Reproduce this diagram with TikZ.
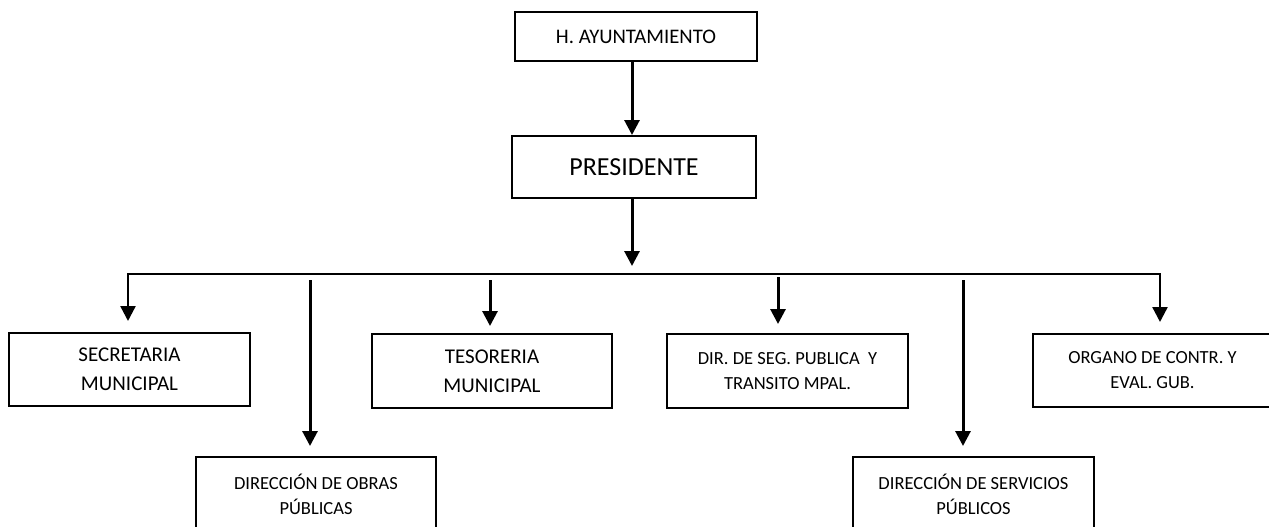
\documentclass[tikz,border=0pt]{standalone}
\usepackage{fontspec}
\setmainfont{Carlito}
\usetikzlibrary{arrows.meta}
\tikzset{
  box/.style={draw, line width=2pt, align=center, inner sep=0pt},
  bigtext/.style={box, font=\fontsize{21}{29}\selectfont},
  smalltext/.style={box, font=\fontsize{18.5}{25}\selectfont},
  arr/.style={line width=3pt, -{Triangle[length=15pt,width=15pt]}},
  busarr/.style={arr, line width=2.4pt}
}
\begin{document}
\begin{tikzpicture}[x=1pt,y=-1pt]
\clip (0,0) rectangle (1269,527);
\fill[white] (0,0) rectangle (1269,527);

\node[box, font=\fontsize{20.7}{25}\selectfont, minimum width=242pt, minimum height=49pt] (ayun) at (636,36.5) {H. AYUNTAMIENTO};
\node[box, font=\fontsize{26}{30}\selectfont, minimum width=244pt, minimum height=62pt] (pres) at (634,167) {PRESIDENTE};

\node[bigtext, minimum width=241pt, minimum height=73pt] (sec) at (129.5,369.5) {SECRETARIA\\MUNICIPAL};
\node[bigtext, minimum width=240pt, minimum height=74pt] (tes) at (492,371) {TESORERIA\\MUNICIPAL};
\node[smalltext, minimum width=241pt, minimum height=74pt] (dseg) at (787.5,371) {DIR. DE SEG. PUBLICA\ \ Y\\TRANSITO MPAL.};
\node[smalltext, minimum width=239pt, minimum height=73pt] (org) at (1152.5,370.5) {ORGANO DE CONTR. Y\\EVAL. GUB.};
\node[smalltext, minimum width=240pt, minimum height=74pt] (obr) at (316,494) {DIRECCIÓN DE OBRAS\\PÚBLICAS};
\node[smalltext, minimum width=241pt, minimum height=74pt] (serv) at (973.5,494) {DIRECCIÓN DE SERVICIOS\\PÚBLICOS};

\coordinate (cA) at (632,0);
\draw[arr] (ayun.south -| cA) -- (pres.north -| cA);

\coordinate (busM) at (632,274);
\coordinate (busL) at (128,274);
\coordinate (busR) at (1160,274);
\draw[arr, shorten >=8pt] (pres.south -| busM) -- (busM);
\draw[busarr, shorten >=11pt] (busM) -- (busL) -- (sec.north -| busL);
\draw[busarr, shorten >=11pt] (busM) -- (busR) -- (org.north -| busR);

\coordinate (bT) at (490,274);
\coordinate (bO) at (310,274);
\coordinate (bD) at (778,274);
\coordinate (bS) at (963,274);
\draw[arr, shorten <=6pt, shorten >=7pt] (bT) -- (tes.north -| bT);
\draw[arr, shorten <=6pt, shorten >=10pt] (bO) -- (obr.north -| bO);
\draw[arr, shorten <=3pt, shorten >=9pt] (bD) -- (dseg.north -| bD);
\draw[arr, shorten <=6pt, shorten >=10pt] (bS) -- (serv.north -| bS);
\end{tikzpicture}
\end{document}
